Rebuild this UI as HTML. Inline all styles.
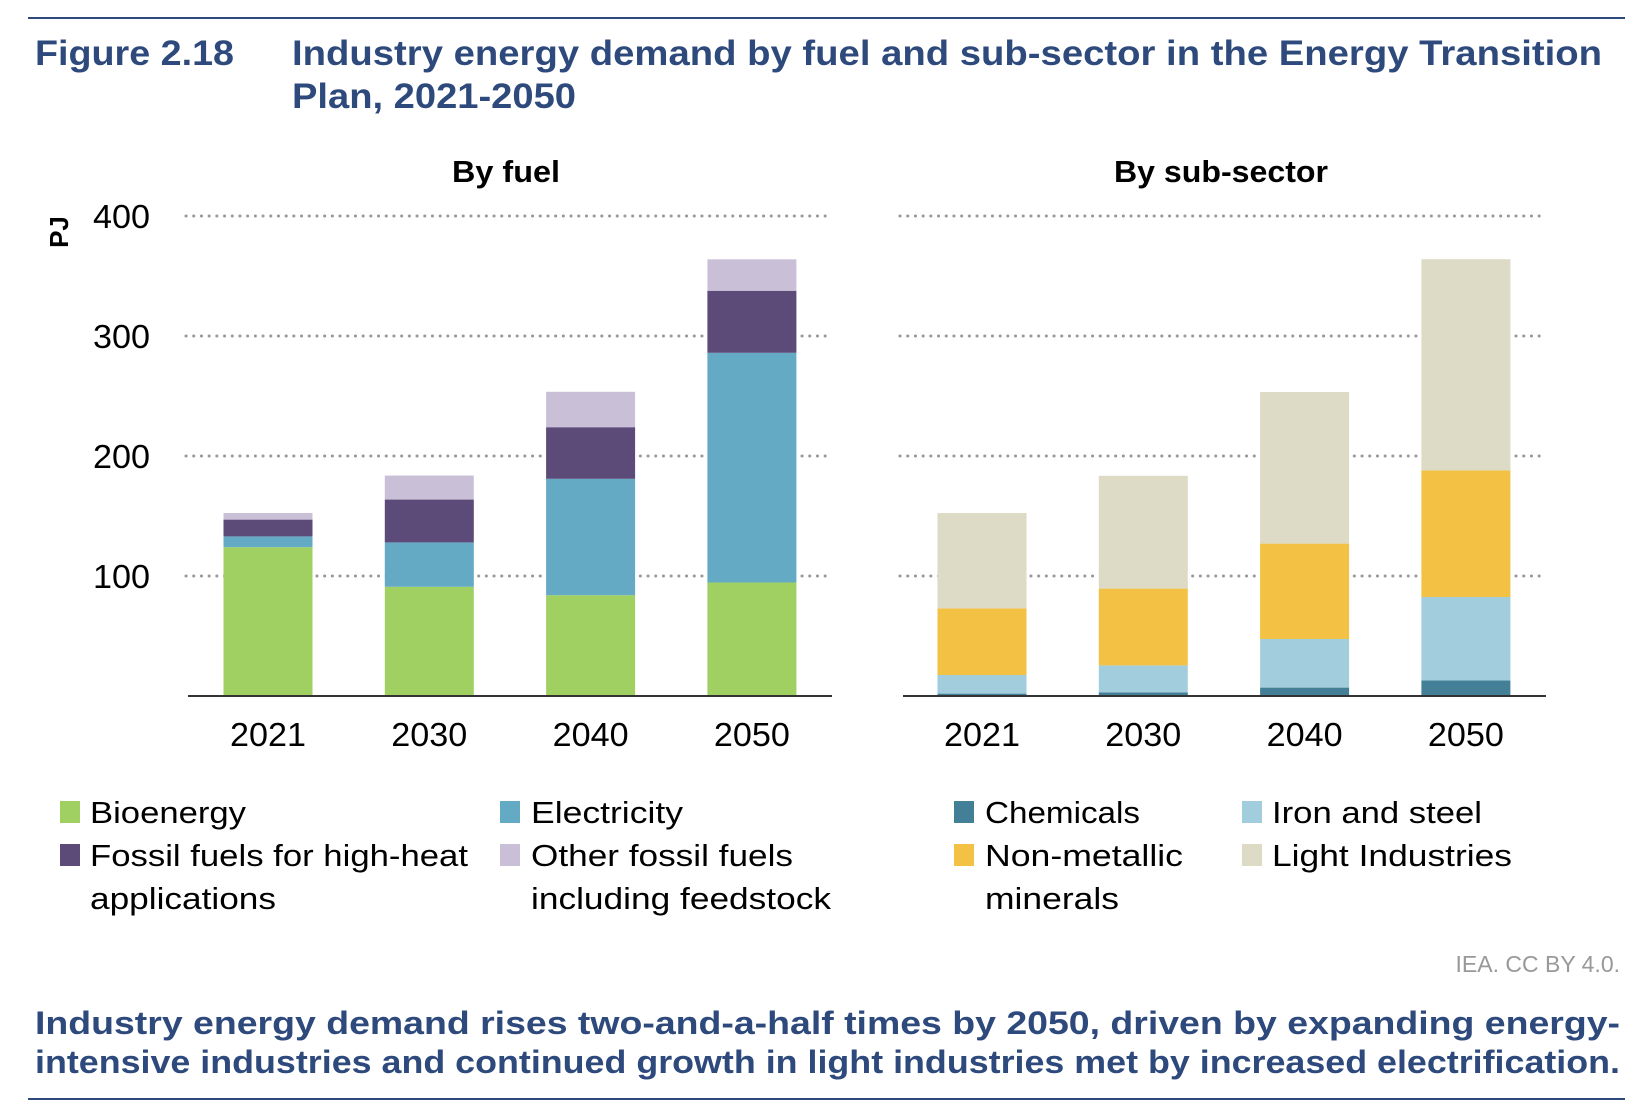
<!DOCTYPE html>
<html><head><meta charset="utf-8"><style>
html,body{margin:0;padding:0;background:#fff;}
svg{display:block;}
</style></head><body>
<svg id="c" width="1650" height="1112" xmlns="http://www.w3.org/2000/svg" font-family="Liberation Sans, sans-serif">
<line x1="28" y1="18" x2="1625" y2="18" stroke="#2e4a7d" stroke-width="2"/>
<text x="35" y="65" font-size="35" font-weight="bold" fill="#2e4a7d" textLength="199" lengthAdjust="spacingAndGlyphs">Figure 2.18</text>
<text x="292" y="65" font-size="35" font-weight="bold" fill="#2e4a7d" textLength="1310" lengthAdjust="spacingAndGlyphs">Industry energy demand by fuel and sub-sector in the Energy Transition</text>
<text x="292" y="108" font-size="35" font-weight="bold" fill="#2e4a7d" textLength="284" lengthAdjust="spacingAndGlyphs">Plan, 2021-2050</text>
<text x="506" y="182" font-size="31" font-weight="bold" text-anchor="middle" fill="#000" textLength="108" lengthAdjust="spacingAndGlyphs">By fuel</text>
<text x="1221" y="182" font-size="31" font-weight="bold" text-anchor="middle" fill="#000" textLength="214" lengthAdjust="spacingAndGlyphs">By sub-sector</text>
<text transform="translate(68,232) rotate(-90)" font-size="26" font-weight="bold" text-anchor="middle">PJ</text>
<g id="plots"></g>
<g id="legend"></g>
<text x="1620" y="972" font-size="23" fill="#999" text-anchor="end">IEA. CC BY 4.0.</text>
<text x="35" y="1034" font-size="32" font-weight="bold" fill="#2e4a7d" textLength="1585" lengthAdjust="spacingAndGlyphs">Industry energy demand rises two-and-a-half times by 2050, driven by expanding energy-</text>
<text x="35" y="1073" font-size="32" font-weight="bold" fill="#2e4a7d" textLength="1585" lengthAdjust="spacingAndGlyphs">intensive industries and continued growth in light industries met by increased electrification.</text>
<line x1="28" y1="1099" x2="1625" y2="1099" stroke="#2e4a7d" stroke-width="2"/>
</svg>
<script>
const categories = ["2021","2030","2040","2050"];
const yTicks = [100,200,300,400];
const bioenergy = [124,91,84,94.6];
const electricity = [9,37,97,191.4];
const fossilHighHeat = [14,35.7,43,51.7];
const otherFossil = [5.5,20,29.5,26.2];
const chemicals = [2,3,7,13];
const ironSteel = [15.5,22.5,40.5,69.5];
const nonMetallic = [55.5,64,79.5,105.5];
const lightIndustries = [79.5,94,126.3,176];

const NS="http://www.w3.org/2000/svg";
const svg=document.getElementById('plots');
const base=696, pxPer=1.2;
function y(v){return base - v*pxPer;}
function mk(tag,attrs,parent){const e=document.createElementNS(NS,tag);for(const k in attrs)e.setAttribute(k,attrs[k]);(parent||svg).appendChild(e);return e;}

function panel(name,x0,x1,gx0,gx1,firstCenter,step,series,showTicks){
  const g=mk('g',{});
  
  
  yTicks.forEach(t=>{
    const l=mk('line',{x1:gx0,x2:gx1,y1:y(t),y2:y(t),stroke:'#999','stroke-width':3,'stroke-dasharray':'0.1 7.6','stroke-linecap':'round'},g);
    
    
    if(showTicks){
      const tx=mk('text',{x:150,y:y(t)+12,'font-size':33,'text-anchor':'end',textLength:57,lengthAdjust:'spacingAndGlyphs'},g);
      tx.textContent=t;
      
      
    }
  });
  categories.forEach((c,i)=>{
    const cx=firstCenter+i*step;
    let acc=0;
    series.forEach(s=>{
      const v=s.data[i];
      const r=mk('rect',{x:cx-44.5,width:89,y:y(acc+v),height:v*pxPer,fill:s.color},g);
      
      
      acc+=v;
    });
    const t=mk('text',{x:cx,y:746,'font-size':33,'text-anchor':'middle',textLength:76,lengthAdjust:'spacingAndGlyphs'},g);
    t.textContent=c;
    
    
  });
  const ax=mk('line',{x1:x0,x2:x1,y1:base,y2:base,stroke:'#333','stroke-width':2},g);
  
  
}
const fuelSeries=[
 {key:'bioenergy',data:bioenergy,color:'#a0cf62',label:['Bioenergy']},
 {key:'electricity',data:electricity,color:'#64aac4',label:['Electricity']},
 {key:'fossil-high-heat',data:fossilHighHeat,color:'#5c4a78',label:['Fossil fuels for high-heat','applications']},
 {key:'other-fossil',data:otherFossil,color:'#c9c0d8',label:['Other fossil fuels','including feedstock']}];
const subSeries=[
 {key:'chemicals',data:chemicals,color:'#437f97',label:['Chemicals']},
 {key:'iron-steel',data:ironSteel,color:'#a1cddc',label:['Iron and steel']},
 {key:'non-metallic',data:nonMetallic,color:'#f3c143',label:['Non-metallic','minerals']},
 {key:'light-industries',data:lightIndustries,color:'#dddac5',label:['Light Industries']}];
panel('fuel',188,832,186,826,268,161.3,fuelSeries,true);
panel('subsector',903,1546,900,1541,982,161.3,subSeries,false);

const lg=document.getElementById('legend');
const pos=[[60,90,823],[500,531,823],[60,90,866],[500,531,866]];
const pos2=[[954,985,823],[1242,1272,823],[954,985,866],[1242,1272,866]];
function legend(series,p){
  series.forEach((s,i)=>{
    const [sx,tx,by]=p[i];
    const r=mk('rect',{x:sx,y:by-22,width:20,height:22,fill:s.color},lg);
    
    
    s.label.forEach((ln,j)=>{
      const t=mk('text',{x:tx,y:by+j*43,'font-size':31},lg);
      t.textContent=ln;
      
      
    });
  });
}
legend(fuelSeries,pos);
legend(subSeries,pos2);
lg.querySelectorAll('text').forEach(t=>{
  const txt=t.textContent;
  const widths={'Fossil fuels for high-heat':378,'including feedstock':300,'Other fossil fuels':262,'Light Industries':240,'Iron and steel':210,'Non-metallic':198,'Bioenergy':156,'Electricity':152,'Chemicals':155,'applications':186,'minerals':134};
  if(widths[txt]){t.setAttribute('textLength',widths[txt]);t.setAttribute('lengthAdjust','spacingAndGlyphs');}
});
</script>
</body></html>
